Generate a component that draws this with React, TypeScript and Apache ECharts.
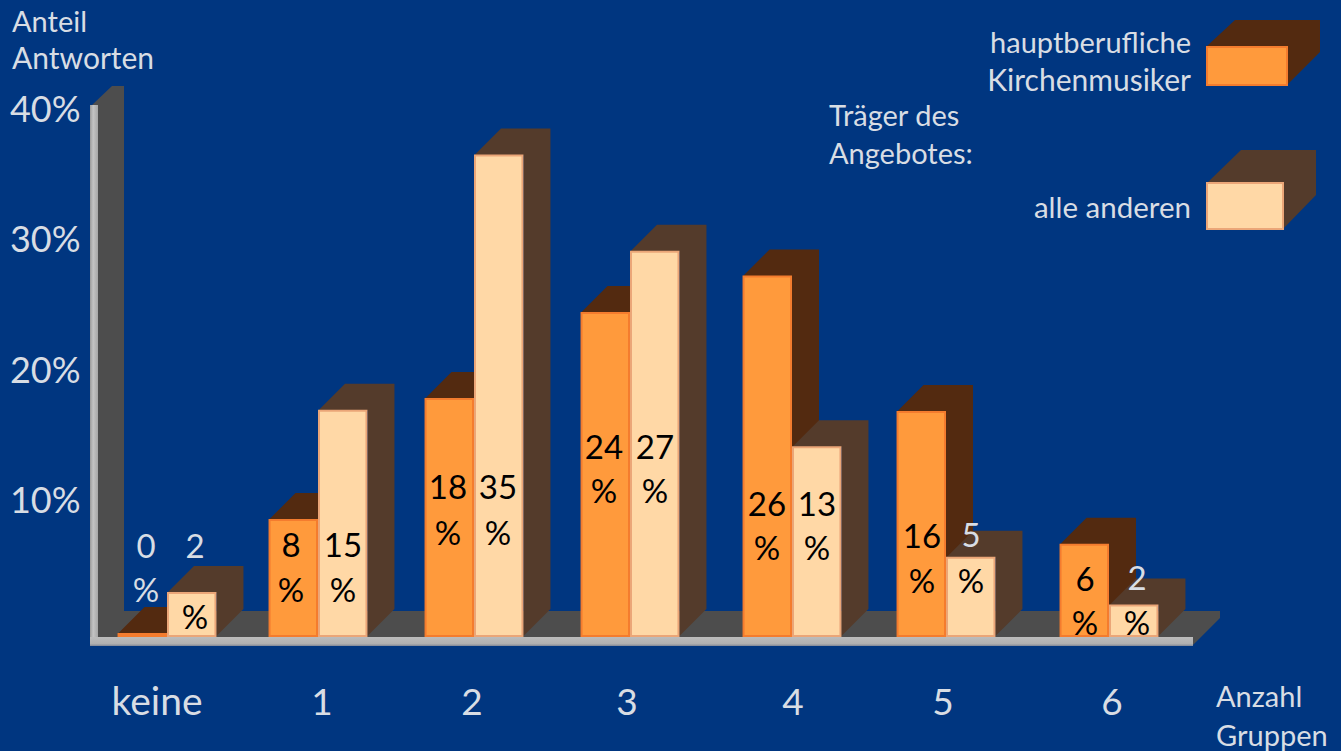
import React, { useEffect, useRef } from "react";
import * as echarts from "echarts";

// ---- data
const categories = ["keine", "1", "2", "3", "4", "5", "6"];
const yTicks = [10, 20, 30, 40];
// printed percentages
const mainLabels = [0, 8, 18, 24, 26, 16, 6];
const otherLabels = [2, 15, 35, 27, 13, 5, 2];
// drawn bar heights on the axis (the picture's bars are a bit taller than their labels)
const mainHeights = [0.15, 8.9, 18.2, 24.8, 27.6, 17.2, 7.0];
const otherHeights = [3.3, 17.3, 36.9, 29.5, 14.5, 6.0, 2.35];
const seriesNames = ["hauptberufliche Kirchenmusiker", "alle anderen"];

// ---- layout
const W = 1341;
const H = 751;
const FONT = "Lato";
const TEXT = "#d8dde4";
const BG = "#003680";
const DEPTH = 27;
const BASE_SHIFT = 7;
const barNudge = [0, -6, -7, -8, -3, -6, 0];
const catNudge = [-10, -2, -9, -11, -2, -9, 3];
const mainLabelPos = [
  [146, 545, 589], [291, 544, 589], [448, 486, 532], [604, 446, 490],
  [767, 503, 547], [922, 535, 580], [1085, 578, 622],
];
const otherLabelPos = [
  [195, 545, 616], [343, 544, 589], [498, 486, 532], [655, 446, 490],
  [817, 503, 547], [971, 534, 580], [1137, 577, 622],
];
const lightDigit = [[true, true], [false, false], [false, false], [false, false], [false, false], [false, true], [false, true]];
const lightPercent = [[true, false], [false, false], [false, false], [false, false], [false, false], [false, false], [false, false]];

const MAIN = { front: "#ff9a3c", border: "#f47c2e", top: "#532a10", side: "#532a10" };
const OTHER = { front: "#ffd8a6", border: "#eba678", top: "#543b2b", side: "#543b2b" };

function txt(text: string, x: number, y: number, fontSize: number, fill: string, align = "center") {
  return {
    type: "text",
    x,
    y,
    style: { text, fontSize, fontFamily: FONT, fill, align, verticalAlign: "middle" },
  };
}

function poly(points: number[][], fill: string, z = 0) {
  return { type: "polygon", z, shape: { points }, style: { fill } };
}

function barSeries(
  name: string,
  heights: number[],
  labels: number[],
  col: typeof MAIN,
  side: number,
  labelPos: number[][],
  showCat: boolean
) {
  return {
    type: "custom",
    name,
    coordinateSystem: "cartesian2d",
    data: heights.map((h, i) => [i, h, labels[i]]),
    renderItem: (_: any, api: any) => {
      const i = api.value(0);
      const base = api.coord([i, 0]);
      const top = api.coord([i, api.value(1)]);
      const bw = api.size([1, 0])[0] * 0.315;
      const cx = base[0] + barNudge[i];
      const x0 = side === 0 ? cx - bw : cx;
      const x1 = x0 + bw;
      const yB = base[1] + BASE_SHIFT;
      const yT = top[1] + BASE_SHIFT;
      const p = labelPos[i];
      const children: any[] = [
        {
          type: "polygon",
          shape: { points: [[x0, yT], [x0 + DEPTH, yT - DEPTH], [x1 + DEPTH, yT - DEPTH], [x1 + DEPTH, yB - DEPTH], [x1, yB], [x1, yT]] },
          style: { fill: col.top },
        },
        {
          type: "rect",
          shape: { x: x0 + 1, y: yT, width: bw - 2, height: yB - yT },
          style: { fill: col.front, stroke: col.border, lineWidth: 2 },
        },
        txt(String(api.value(2)), p[0], p[1], 33, lightDigit[i][side] ? TEXT : "#000000"),
        txt("%", p[0], p[2], 33, lightPercent[i][side] ? TEXT : "#000000"),
      ];
      if (showCat) {
        children.push(txt(categories[i], base[0] + catNudge[i], 700, i === 0 ? 39 : 37, TEXT));
      }
      return { type: "group", children };
    },
  };
}

const graphicElements: any[] = [
  // wall and floor
  poly([[92, 105], [112, 86], [124, 86], [124, 611], [1220, 611], [1220, 618], [1193, 645], [92, 645]], "#4d4d4d"),
  // axis slabs
  {
    type: "rect",
    shape: { x: 90, y: 105, width: 8, height: 541 },
    style: {
      fill: new echarts.graphic.LinearGradient(0, 0, 1, 0, [
        { offset: 0, color: "#9a9a9a" },
        { offset: 0.4, color: "#c4c4c4" },
        { offset: 1, color: "#a6a6a6" },
      ]),
    },
  },
  {
    type: "rect",
    shape: { x: 90, y: 637, width: 1103, height: 9 },
    style: {
      fill: new echarts.graphic.LinearGradient(0, 0, 0, 1, [
        { offset: 0, color: "#bcbcbc" },
        { offset: 0.75, color: "#b0b0b0" },
        { offset: 1, color: "#7f8797" },
      ]),
    },
  },
  // legend keys
  poly([[1207, 46], [1235, 20], [1320, 20], [1320, 52], [1287, 85], [1287, 46]], MAIN.top),
  {
    type: "rect",
    shape: { x: 1207, y: 47, width: 80, height: 38 },
    style: { fill: MAIN.front, stroke: MAIN.border, lineWidth: 2 },
  },
  poly([[1207, 183], [1241, 150], [1316, 150], [1316, 195], [1283, 229], [1283, 183]], OTHER.top),
  {
    type: "rect",
    shape: { x: 1207, y: 183, width: 76, height: 46 },
    style: { fill: OTHER.front, stroke: OTHER.border, lineWidth: 2 },
  },
  // legend and axis titles
  txt("hauptberufliche", 1191, 41, 29, TEXT, "right"),
  txt("Kirchenmusiker", 1191, 79, 30, TEXT, "right"),
  txt("alle anderen", 1191, 206, 29.5, TEXT, "right"),
  txt("Träger des", 829, 114, 29, TEXT, "left"),
  txt("Angebotes:", 829, 152, 29, TEXT, "left"),
  txt("Anteil", 12, 20, 29, TEXT, "left"),
  txt("Antworten", 12, 57, 30, TEXT, "left"),
  txt("Anzahl", 1216, 695, 29, TEXT, "left"),
  txt("Gruppen", 1216, 734, 29, TEXT, "left"),
];

export default function App() {
  const ref = useRef<HTMLDivElement>(null);
  useEffect(() => {
    document.body.style.margin = "0";
    document.body.style.background = BG;
    const chart = echarts.init(ref.current!, undefined, { renderer: "svg" });
    chart.setOption({
      animation: false,
      backgroundColor: BG,
      textStyle: { fontFamily: FONT },
      grid: { left: 88.5, width: 1099, top: 108, height: 521 },
      xAxis: {
        type: "category",
        data: categories,
        axisLine: { show: false },
        axisTick: { show: false },
        axisLabel: { show: false },
      },
      yAxis: {
        type: "value",
        min: 0,
        max: 40,
        interval: 10,
        splitLine: { show: false },
        axisLine: { show: false },
        axisTick: { show: false },
        axisLabel: {
          margin: 8,
          color: TEXT,
          fontFamily: FONT,
          fontSize: 36,
          formatter: (v: number) => (yTicks.includes(v) ? `${v}%` : ""),
        },
      },
      graphic: { elements: graphicElements },
      series: [
        barSeries(seriesNames[0], mainHeights, mainLabels, MAIN, 0, mainLabelPos, true),
        barSeries(seriesNames[1], otherHeights, otherLabels, OTHER, 1, otherLabelPos, false),
      ],
    });
    return () => chart.dispose();
  }, []);
  return <div ref={ref} style={{ position: "absolute", left: 0, top: 0, width: W, height: H }} />;
}
